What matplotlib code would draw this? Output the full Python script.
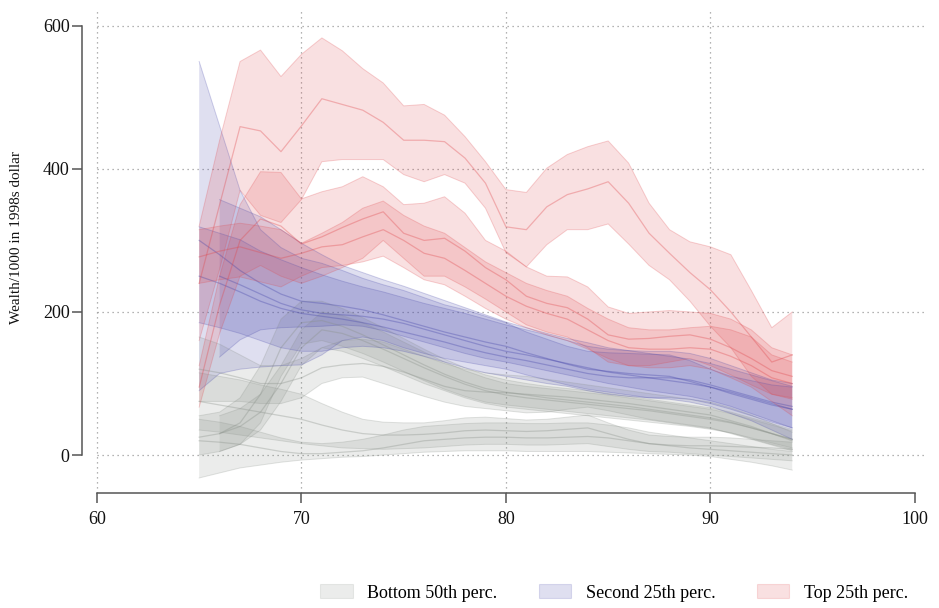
import matplotlib
matplotlib.use("Agg")
import matplotlib.pyplot as plt
from matplotlib.patches import Patch
import numpy as np

plt.rcParams['font.family'] = ['Liberation Serif', 'DejaVu Serif']

# wealth paths by cohort (first age, then lower / mean / upper bound), thousands of 1998 dollars
# --- bottom 50th percentile
g1_start = 65
g1_hi = [165, 155, 140, 125, 125, 135, 150, 160, 162, 158, 148, 138, 128, 120, 115, 112, 110, 106, 102, 98, 94, 90, 86, 82, 78, 74, 66, 56, 44, 32]
g1_mid = [120, 115, 108, 100, 100, 108, 122, 126, 128, 124, 116, 106, 96, 90, 88, 87, 85, 83, 81, 78, 75, 72, 68, 64, 60, 56, 48, 40, 30, 20]
g1_lo = [75, 75, 75, 72, 72, 80, 100, 108, 109, 100, 91, 82, 74, 68, 65, 62, 59, 60, 64, 67, 62, 56, 50, 46, 42, 38, 30, 22, 14, 6]

g2_start = 65
g2_hi = [55, 60, 80, 125, 190, 215, 215, 205, 192, 178, 163, 148, 134, 122, 112, 105, 100, 96, 93, 90, 86, 82, 78, 74, 70, 66, 60, 52, 44, 36]
g2_mid = [25, 30, 45, 85, 150, 185, 188, 180, 168, 154, 140, 126, 113, 102, 93, 88, 84, 80, 77, 74, 71, 68, 64, 60, 56, 52, 46, 38, 30, 22]
g2_lo = [0, 5, 15, 45, 110, 155, 160, 152, 142, 130, 117, 104, 92, 82, 74, 70, 67, 64, 61, 58, 55, 52, 49, 45, 41, 37, 31, 23, 15, 8]

g3_start = 65
g3_hi = [115, 110, 105, 98, 92, 85, 72, 60, 50, 46, 45, 45, 48, 52, 53, 51, 49, 50, 53, 56, 45, 35, 28, 26, 25, 25, 24, 22, 20, 18]
g3_mid = [75, 70, 65, 60, 55, 50, 42, 35, 30, 28, 28, 29, 31, 34, 35, 34, 33, 34, 36, 38, 30, 22, 16, 14, 13, 13, 12, 11, 10, 8]
g3_lo = [35, 32, 28, 24, 20, 16, 13, 10, 9, 8, 9, 10, 12, 14, 15, 15, 14, 14, 15, 16, 12, 8, 5, 4, 2, 0, -2, -4, -6, -8]

g4_start = 65
g4_hi = [50, 46, 40, 32, 24, 18, 16, 18, 22, 28, 35, 40, 42, 44, 45, 45, 44, 44, 45, 45, 42, 38, 32, 28, 24, 20, 16, 12, 8, 5]
g4_mid = [20, 18, 15, 10, 5, 2, 2, 4, 6, 10, 15, 20, 22, 24, 25, 25, 24, 24, 25, 26, 24, 20, 16, 13, 10, 8, 6, 4, 2, 0]
g4_lo = [-32, -25, -18, -14, -10, -7, -5, -3, -2, 0, 2, 4, 5, 6, 6, 6, 5, 5, 5, 5, 4, 3, 2, 1, 0, -2, -6, -10, -15, -21]

g5_start = 66
g5_hi = [55, 65, 85, 125, 175, 200, 195, 185, 172, 158, 144, 130, 118, 108, 100, 96, 93, 90, 87, 84, 80, 76, 72, 68, 64, 58, 50, 42, 34]
g5_mid = [30, 40, 60, 100, 150, 175, 170, 160, 148, 135, 122, 110, 99, 90, 84, 80, 77, 74, 71, 68, 65, 62, 58, 54, 50, 45, 38, 30, 22]
g5_lo = [5, 15, 35, 75, 125, 150, 145, 135, 124, 112, 100, 90, 80, 72, 67, 64, 61, 58, 55, 52, 49, 46, 43, 40, 36, 31, 24, 17, 10]

# --- second 25th percentile
b1_start = 65
b1_hi = [550, 460, 370, 315, 290, 275, 268, 258, 247, 238, 230, 220, 210, 203, 194, 185, 172, 162, 152, 145, 143, 142, 141, 140, 132, 120, 110, 104, 98, 95]
b1_mid = [300, 280, 258, 240, 225, 215, 212, 208, 203, 196, 188, 180, 172, 165, 158, 152, 143, 135, 127, 120, 117, 114, 112, 110, 103, 95, 86, 78, 70, 64]
b1_lo = [90, 114, 120, 123, 125, 126, 140, 160, 165, 160, 150, 142, 135, 130, 125, 120, 112, 105, 98, 92, 88, 84, 80, 78, 74, 68, 58, 48, 35, 22]

b2_start = 66
b2_hi = [357, 345, 333, 315, 296, 280, 265, 255, 245, 236, 226, 216, 206, 196, 186, 178, 170, 163, 157, 150, 146, 142, 138, 134, 128, 120, 112, 104, 96]
b2_mid = [250, 238, 225, 212, 203, 198, 196, 194, 190, 184, 176, 168, 160, 152, 145, 140, 134, 128, 122, 116, 112, 108, 104, 100, 95, 88, 80, 72, 64]
b2_lo = [137, 161, 175, 178, 179, 180, 182, 180, 174, 166, 158, 150, 142, 135, 130, 124, 118, 112, 106, 100, 95, 90, 86, 82, 76, 68, 58, 48, 38]

b3_start = 65
b3_hi = [319, 310, 301, 285, 273, 262, 252, 243, 235, 228, 220, 212, 205, 198, 190, 182, 175, 168, 160, 152, 148, 146, 145, 145, 142, 135, 125, 115, 105, 100]
b3_mid = [250, 240, 228, 215, 205, 198, 194, 190, 185, 179, 172, 165, 158, 150, 143, 137, 132, 126, 120, 114, 110, 108, 108, 108, 105, 98, 90, 82, 74, 68]
b3_lo = [185, 178, 170, 160, 150, 145, 145, 150, 152, 150, 145, 138, 130, 122, 115, 110, 105, 100, 96, 90, 85, 82, 80, 80, 78, 72, 64, 55, 46, 38]

# --- top 25th percentile
r1_start = 65
r1_hi = [320, 440, 550, 566, 529, 560, 583, 565, 540, 520, 488, 490, 475, 445, 410, 371, 367, 401, 420, 431, 439, 408, 352, 315, 298, 291, 280, 230, 178, 200]
r1_mid = [240, 350, 459, 453, 424, 460, 498, 490, 482, 465, 440, 440, 438, 415, 380, 319, 315, 347, 364, 372, 382, 352, 310, 282, 255, 231, 200, 165, 130, 140]
r1_lo = [160, 260, 370, 335, 325, 357, 410, 413, 413, 413, 392, 382, 392, 380, 345, 283, 263, 294, 315, 315, 323, 295, 265, 245, 215, 180, 150, 110, 85, 80]

r2_start = 65
r2_hi = [125, 250, 350, 396, 395, 358, 368, 375, 389, 375, 350, 352, 361, 338, 300, 285, 263, 250, 249, 235, 207, 198, 200, 202, 200, 198, 190, 175, 150, 140]
r2_mid = [95, 210, 300, 330, 320, 295, 305, 318, 330, 340, 310, 300, 303, 285, 262, 245, 222, 212, 206, 190, 168, 162, 163, 166, 168, 162, 150, 135, 118, 110]
r2_lo = [67, 170, 250, 265, 250, 240, 250, 262, 275, 300, 275, 250, 250, 235, 218, 200, 182, 172, 165, 150, 130, 125, 125, 130, 135, 125, 112, 98, 85, 78]

r3_start = 65
r3_hi = [315, 320, 324, 320, 315, 296, 310, 325, 345, 355, 335, 320, 310, 290, 270, 255, 240, 230, 222, 205, 190, 178, 175, 175, 178, 180, 175, 165, 140, 130]
r3_mid = [277, 285, 291, 283, 275, 282, 291, 294, 305, 315, 300, 282, 275, 258, 240, 222, 208, 198, 190, 175, 160, 150, 148, 148, 150, 148, 138, 125, 108, 100]
r3_lo = [240, 245, 249, 242, 235, 250, 262, 265, 270, 278, 262, 245, 238, 222, 205, 190, 178, 168, 160, 148, 135, 125, 122, 122, 125, 120, 108, 95, 75, 55]

group_names = ['Bottom 50th perc.', 'Second 25th perc.', 'Top 25th perc.']
group_colors = ['#8a918a', '#4646aa', '#e0484d']

bands = [
    [(g1_start, g1_lo, g1_mid, g1_hi), (g2_start, g2_lo, g2_mid, g2_hi), (g3_start, g3_lo, g3_mid, g3_hi),
     (g4_start, g4_lo, g4_mid, g4_hi), (g5_start, g5_lo, g5_mid, g5_hi)],
    [(b1_start, b1_lo, b1_mid, b1_hi), (b2_start, b2_lo, b2_mid, b2_hi), (b3_start, b3_lo, b3_mid, b3_hi)],
    [(r1_start, r1_lo, r1_mid, r1_hi), (r2_start, r2_lo, r2_mid, r2_hi), (r3_start, r3_lo, r3_mid, r3_hi)],
]

fig = plt.figure(figsize=(9.39, 6.08), dpi=100)
ax = fig.add_axes([82 / 939, 115 / 608, 845 / 939, 483 / 608])
ax.set_xlim(59.27, 100.59)
ax.set_ylim(-53, 622)

# dotted grid, stata style
for y in [0, 200, 400, 600]:
    ax.plot([60, 100.59], [y, y], color='#9a9a9a', lw=0.9, ls=(0, (1, 3)), zorder=0)
for x in [60, 70, 80, 90]:
    ax.axvline(x, color='#9a9a9a', lw=0.9, ls=(0, (1, 3)), zorder=0)

for grp, color in zip(bands, group_colors):
    for start, lo, mid, hi in grp:
        age = np.arange(start, start + len(mid))
        ax.fill_between(age, lo, hi, facecolor=color, alpha=0.17, lw=0, zorder=1)
        ax.plot(age, lo, color=color, alpha=0.25, lw=0.7, zorder=2)
        ax.plot(age, hi, color=color, alpha=0.25, lw=0.7, zorder=2)
        ax.plot(age, mid, color=color, alpha=0.35, lw=0.9, zorder=2)

for side in ['top', 'right']:
    ax.spines[side].set_visible(False)
ax.spines['left'].set_bounds(0, 600)
ax.spines['bottom'].set_bounds(60, 100)
for side in ['left', 'bottom']:
    ax.spines[side].set_color('#555555')
    ax.spines[side].set_linewidth(1.1)

ax.set_xticks([60, 70, 80, 90, 100])
ax.set_yticks([0, 200, 400, 600])
ax.tick_params(direction='out', length=7, width=1.1, color='#555555', labelcolor='#111111', labelsize=13)
ax.tick_params(axis='y', pad=2)
ax.tick_params(axis='x', pad=6)

fig.text(17 / 939, 1 - 238 / 608, 'Wealth/1000 in 1998s dollar', rotation=90,
         ha='center', va='center', fontsize=11, color='#111111')

handles = [Patch(facecolor=c, edgecolor=c, alpha=0.17, lw=0.8) for c in group_colors]
fig.legend(handles, group_names, loc='center', bbox_to_anchor=(614 / 939, 1 - 593 / 608),
           ncol=3, frameon=False, fontsize=13, handlelength=1.8, handleheight=0.8,
           columnspacing=2.3, handletextpad=0.8)

fig.savefig('out.png', dpi=100)
